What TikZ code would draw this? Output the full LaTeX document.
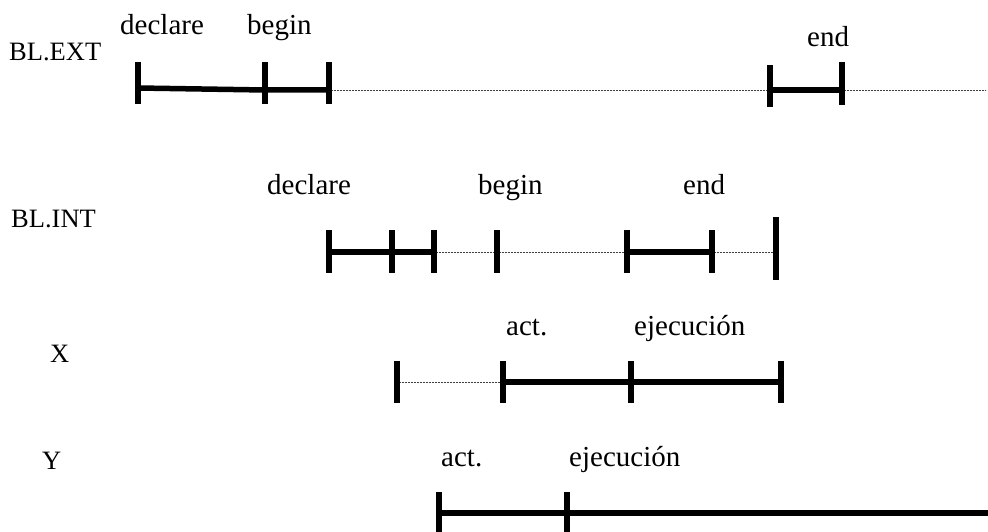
\documentclass[tikz,border=0pt]{standalone}
\usepackage{fontspec}
\setmainfont{Liberation Serif}
\usetikzlibrary{calc}
\begin{document}
\begin{tikzpicture}[x=1pt,y=-1pt,
  bar/.style={line width=5.5pt,line cap=butt},
  span/.style={line width=5.5pt,line cap=butt},
  idle/.style={line width=0.7pt,black!75,dash pattern=on 0.8pt off 0.7pt},
  rowname/.style={anchor=base west,inner sep=0pt,font=\fontsize{26.5}{28}\selectfont},
  phase/.style={anchor=base west,inner sep=0pt,font=\fontsize{29}{30}\selectfont}]
\useasboundingbox (0,0) rectangle (988,532);

% row labels
\node[rowname] (ext) at (9,61) {BL.EXT};
\node[rowname] (int) at (11,227) {BL.INT};
\node[rowname] (x) at (50,362) {X};
\node[rowname] (y) at (42,469) {Y};

% phase labels
\node[phase] (decext) at (120,35) {declare};
\node[phase] (begext) at (247,35) {begin};
\node[phase] (endext) at (807,47) {end};
\node[phase] (decint) at (267,194) {declare};
\node[phase] (begint) at (478,194) {begin};
\node[phase] (endint) at (683,194) {end};
\node[phase] (actx) at (506,335) {act.};
\node[phase] (ejex) at (634,335) {ejecución};
\node[phase] (acty) at (441,466) {act.};
\node[phase] (ejey) at (569,466) {ejecución};

% outer block
\coordinate (a1) at (138,88);
\coordinate (a2) at (265,90);
\coordinate (a3) at (329,90);
\coordinate (a4) at (770,90);
\coordinate (a5) at (842,90);
\coordinate (a6) at (986,90);
\draw[idle] (a3) -- (a4);
\draw[idle] (a5) -- (a6);
\draw[span] (a1) -- (a2) -- (a3);
\draw[span] (a4) -- (a5);
\draw[bar] ($(a1)+(0,-26)$) -- ($(a1)+(0,16)$);
\draw[bar] ($(a2)+(0,-28)$) -- ($(a2)+(0,14)$);
\draw[bar] ($(a3)+(0,-28)$) -- ($(a3)+(0,14)$);
\draw[bar] ($(a4)+(0,-25)$) -- ($(a4)+(0,17)$);
\draw[bar] ($(a5)+(0,-28)$) -- ($(a5)+(0,15)$);

% inner block
\coordinate (b1) at (329,252);
\coordinate (b2) at (392,252);
\coordinate (b3) at (434,252);
\coordinate (b4) at (497,252);
\coordinate (b5) at (627,252);
\coordinate (b6) at (712,252);
\coordinate (b7) at (776,252);
\draw[idle] (b3) -- (b5);
\draw[idle] (b6) -- (b7);
\draw[span] (b1) -- (b3);
\draw[span] (b5) -- (b6);
\foreach \p in {b1,b2,b3,b4,b5,b6}
  \draw[bar] ($(\p)+(0,-22)$) -- ($(\p)+(0,21)$);
\draw[bar] ($(b7)+(0,-35)$) -- ($(b7)+(0,28)$);

% task X
\coordinate (c1) at (397,382);
\coordinate (c2) at (503,382);
\coordinate (c3) at (631,382);
\coordinate (c4) at (781,382);
\draw[idle] (c1) -- (c2);
\draw[span] (c2) -- (c4);
\foreach \p in {c1,c2,c3,c4}
  \draw[bar] ($(\p)+(0,-21)$) -- ($(\p)+(0,21)$);

% task Y
\coordinate (d1) at (439,513);
\coordinate (d2) at (567,513);
\coordinate (d3) at (988,513);
\draw[span] (d1) -- (d3);
\foreach \p in {d1,d2}
  \draw[bar] ($(\p)+(0,-21)$) -- ($(\p)+(0,21)$);
\end{tikzpicture}
\end{document}
